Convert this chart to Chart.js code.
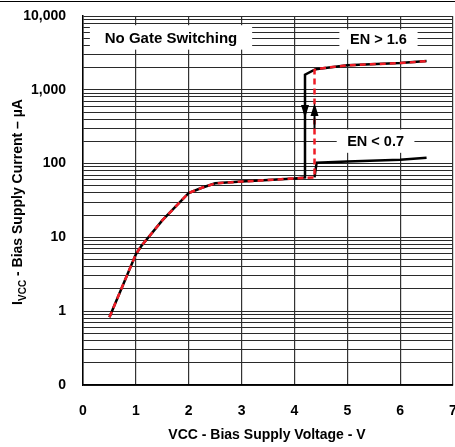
<!DOCTYPE html>
<html>
<head>
<meta charset="utf-8">
<script src="https://cdn.jsdelivr.net/npm/chart.js@4.4.1/dist/chart.umd.min.js"></script>
<style>
    html, body { margin: 0; padding: 0; background: #fff; }
    #wrap { width: 455px; height: 447px; }
</style>
</head>
<body>
<div id="wrap"><canvas id="chart" width="455" height="447"></canvas></div>
<script>
// axis ticks
const xTicks = [0, 1, 2, 3, 4, 5, 6, 7];
const yDecades = [0.1, 1, 10, 100, 1000, 10000];
const yDecadeLabels = ['0', '1', '10', '100', '1,000', '10,000'];

// black solid: supply rising, EN > 1.6
const riseX = [0.5, 1, 1.1, 1.5, 2, 2.25, 2.5, 3, 4, 4.2, 4.2, 4.4, 5, 6, 6.5];
const riseY = [0.83, 5.9, 7.6, 17, 40, 47, 54, 57, 63, 65, 1600, 1900, 2150, 2300, 2450];

// black solid: EN < 0.7 branch
const lowX = [4.38, 4.42, 5, 6, 6.5];
const lowY = [65, 103, 107, 113, 120];

// red dashed: supply falling
const fallX = [0.5, 1, 1.1, 1.5, 2, 2.25, 2.5, 3, 4, 4.38, 4.38, 4.5, 5, 6, 6.5];
const fallY = [0.83, 5.9, 7.6, 17, 40, 47, 54, 57, 63, 65, 1850, 1950, 2150, 2300, 2450];

// arrow tips on the vertical transitions
const downArrow = { x: 4.2, tip: 415 };
const upArrow = { x: 4.38, tip: 660, stem: 300 };

function toPoints(xs, ys) {
    return xs.map((x, i) => ({ x: x, y: ys[i] }));
}

const FAMILY = '"Liberation Sans", Arial, sans-serif';

// label boxes: [text, font size, x0, x1, yTop, yBottom] in data units
const boxes = [
    ['No Gate Switching', 15, 0.13, 3.2, 7500, 3500],
    ['EN > 1.6', 14.5, 4.85, 6.33, 6600, 3500],
    ['EN < 0.7', 14.5, 4.8, 6.27, 290, 140]
];

const annotations = {
    id: 'annotations',
    beforeDatasetsDraw(chart) {
        const ctx = chart.ctx;
        const xs = chart.scales.x, ys = chart.scales.y;
        ctx.save();
        ctx.textAlign = 'center';
        ctx.textBaseline = 'middle';
        boxes.forEach(b => {
            const x0 = xs.getPixelForValue(b[2]), x1 = xs.getPixelForValue(b[3]);
            const y0 = ys.getPixelForValue(b[4]), y1 = ys.getPixelForValue(b[5]);
            ctx.fillStyle = '#fff';
            ctx.fillRect(x0, y0, x1 - x0, y1 - y0);
            ctx.fillStyle = '#000';
            ctx.font = 'bold ' + b[1] + 'px ' + FAMILY;
            ctx.fillText(b[0], (x0 + x1) / 2, (y0 + y1) / 2 + 1);
        });
        ctx.restore();
    },
    afterDatasetsDraw(chart) {
        const ctx = chart.ctx;
        const xs = chart.scales.x, ys = chart.scales.y;
        ctx.save();
        ctx.fillStyle = '#000';
        ctx.strokeStyle = '#000';
        // down arrow
        let x = xs.getPixelForValue(downArrow.x);
        let t = ys.getPixelForValue(downArrow.tip);
        ctx.beginPath();
        ctx.moveTo(x, t);
        ctx.lineTo(x - 4, t - 13);
        ctx.lineTo(x + 4, t - 13);
        ctx.closePath();
        ctx.fill();
        // up arrow with its black stem
        x = xs.getPixelForValue(upArrow.x);
        t = ys.getPixelForValue(upArrow.tip);
        ctx.beginPath();
        ctx.moveTo(x, t);
        ctx.lineTo(x - 4, t + 13);
        ctx.lineTo(x + 4, t + 13);
        ctx.closePath();
        ctx.fill();
        ctx.lineWidth = 2;
        ctx.beginPath();
        ctx.moveTo(x, t + 12);
        ctx.lineTo(x, ys.getPixelForValue(upArrow.stem));
        ctx.stroke();
        ctx.restore();
    },
    afterDraw(chart) {
        const ctx = chart.ctx;
        ctx.save();
        // frame line at top of the picture
        ctx.strokeStyle = '#000';
        ctx.lineWidth = 1;
        ctx.beginPath();
        ctx.moveTo(0, 1.5);
        ctx.lineTo(chart.width, 1.5);
        ctx.stroke();
        ctx.fillStyle = '#000';
        // x title
        ctx.font = 'bold 14px ' + FAMILY;
        ctx.textAlign = 'center';
        ctx.textBaseline = 'middle';
        ctx.fillText('VCC - Bias Supply Voltage - V', 267, 435);
        // y title with subscript
        const main = 'bold 14px ' + FAMILY;
        const sub = 'bold 10px ' + FAMILY;
        const rest = ' - Bias Supply Current \u2013 \u00b5A';
        ctx.font = main;
        const wI = ctx.measureText('I').width;
        const wRest = ctx.measureText(rest).width;
        ctx.font = sub;
        const wSub = ctx.measureText('VCC').width;
        const total = wI + wSub + wRest;
        ctx.translate(17, 202);
        ctx.rotate(-Math.PI / 2);
        ctx.textAlign = 'left';
        ctx.textBaseline = 'alphabetic';
        let p = -total / 2;
        ctx.font = main;
        ctx.fillText('I', p, 5);
        p += wI;
        ctx.font = sub;
        ctx.fillText('VCC', p, 9);
        p += wSub;
        ctx.font = main;
        ctx.fillText(rest, p, 5);
        ctx.restore();
    }
};

const ctx = document.getElementById('chart').getContext('2d');
new Chart(ctx, {
    type: 'line',
    data: {
        datasets: [
            {
                data: toPoints(fallX, fallY),
                borderColor: '#ee1c25',
                borderWidth: 2.5,
                borderDash: [6, 4],
                pointRadius: 0,
                tension: 0,
                order: 0
            },
            {
                data: toPoints(riseX, riseY),
                borderColor: '#000',
                borderWidth: 2.5,
                pointRadius: 0,
                tension: 0,
                order: 1
            },
            {
                data: toPoints(lowX, lowY),
                borderColor: '#000',
                borderWidth: 2.5,
                pointRadius: 0,
                tension: 0,
                order: 2
            }
        ]
    },
    options: {
        responsive: false,
        animation: false,
        devicePixelRatio: 1,
        layout: { padding: { top: 16, right: 2, left: 0, bottom: 0 } },
        plugins: { legend: { display: false }, tooltip: { enabled: false } },
        scales: {
            x: {
                type: 'linear',
                min: 0,
                max: 7,
                afterBuildTicks: scale => {
                    scale.ticks = xTicks.map(v => ({ value: v }));
                },
                afterFit: scale => {
                    scale.height = 62;
                    scale.paddingLeft = 0;
                    scale.paddingRight = 0;
                },
                ticks: {
                    color: '#000',
                    font: { family: FAMILY, size: 14, weight: 'bold' },
                    padding: 18,
                    maxRotation: 0
                },
                grid: { color: '#333', lineWidth: 1.2, drawTicks: false },
                border: { color: '#000', width: 1.5 }
            },
            y: {
                type: 'logarithmic',
                min: 0.1,
                max: 10000,
                afterBuildTicks: scale => {
                    const t = [];
                    yDecades.forEach((d, i) => {
                        if (i === yDecades.length - 1) {
                            t.push({ value: d });
                            return;
                        }
                        for (let k = 1; k < 10; k++) t.push({ value: d * k });
                    });
                    scale.ticks = t;
                },
                afterFit: scale => {
                    scale.width = 83;
                    scale.paddingTop = 0;
                    scale.paddingBottom = 0;
                },
                ticks: {
                    color: '#000',
                    font: { family: FAMILY, size: 14, weight: 'bold' },
                    padding: 17,
                    autoSkip: false,
                    callback: value => {
                        const i = yDecades.findIndex(d => Math.abs(d - value) / d < 1e-6);
                        return i >= 0 ? yDecadeLabels[i] : '';
                    }
                },
                grid: { color: '#2a2a2a', lineWidth: 1, drawTicks: false },
                border: { color: '#000', width: 1.5 }
            }
        }
    },
    plugins: [annotations]
});
</script>
</body>
</html>
